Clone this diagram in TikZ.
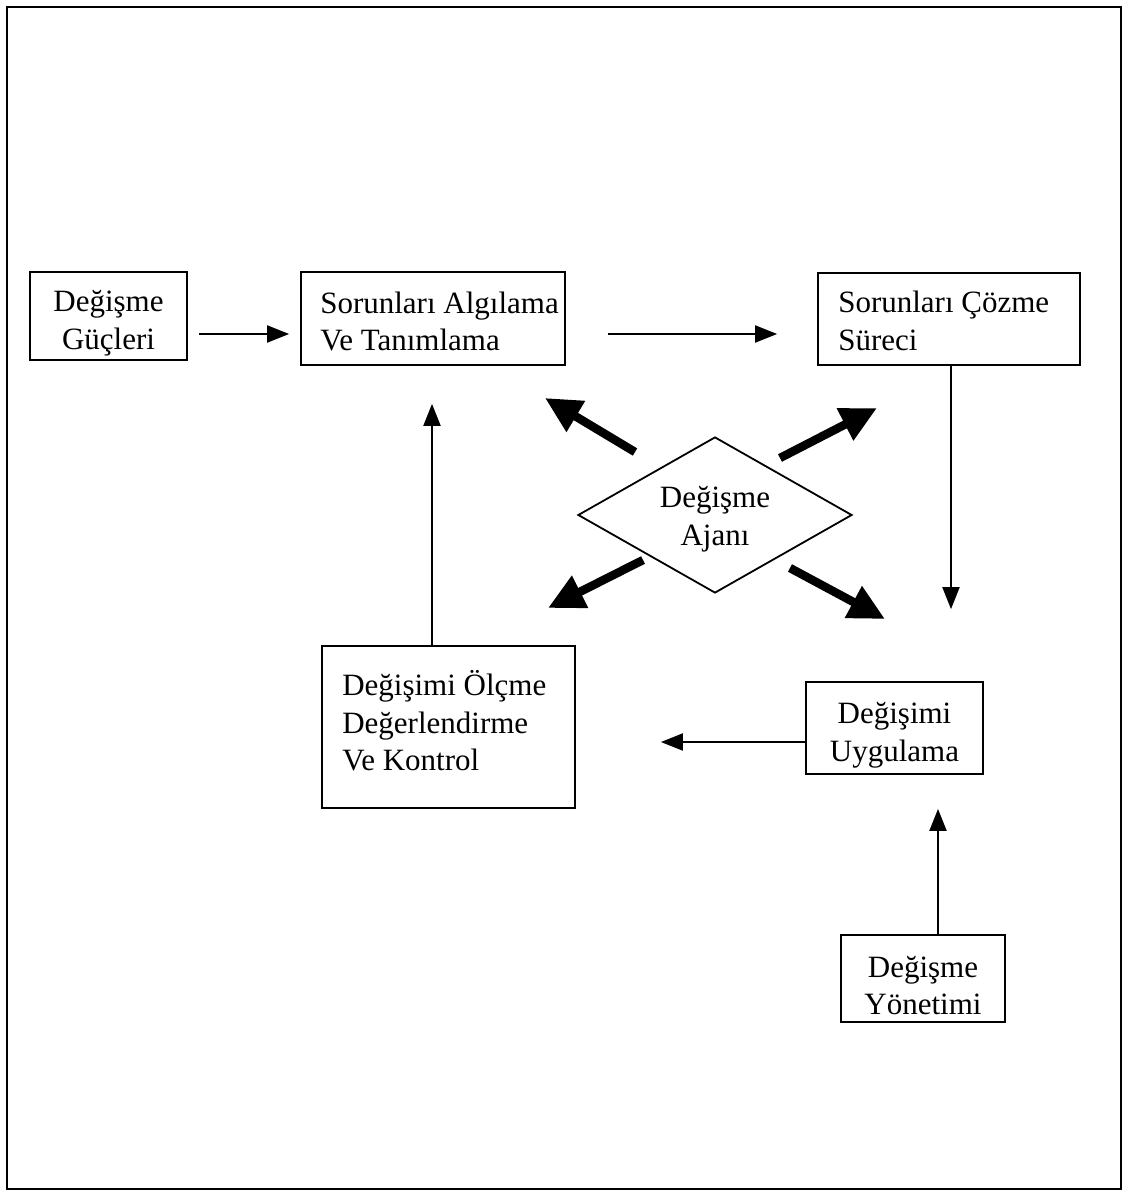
\documentclass[tikz,border=0pt]{standalone}
\usepackage{fontspec}
\setmainfont{Liberation Serif}
\usetikzlibrary{arrows.meta,shapes.geometric}
\begin{document}
\begin{tikzpicture}[x=1pt,y=-1pt,
  box/.style={draw, line width=1.8pt, inner sep=0pt},
  txt/.style={inner sep=0pt, font=\fontsize{31}{37.5}\selectfont},
  tarrow/.style={line width=2pt, -{Triangle[length=22pt,width=17pt]}},
  karrow/.style={line width=8.5pt, -{Triangle[length=36pt,width=34pt]}, draw=black, fill=black!85}]
\useasboundingbox (0,0) rectangle (1128,1192);
\draw[line width=2.5pt] (7,7) rectangle (1121,1189);
% boxes
\node[box, minimum width=157pt, minimum height=88pt] (B1) at (108.5,316) {};
\node[box, minimum width=264pt, minimum height=93pt] (B2) at (433,318.5) {};
\node[box, minimum width=262pt, minimum height=92pt] (B3) at (949,319) {};
\node[box, minimum width=253pt, minimum height=162pt] (B4) at (448.5,727) {};
\node[box, minimum width=177pt, minimum height=92pt] (B5) at (894.5,728) {};
\node[box, minimum width=164pt, minimum height=87pt] (B6) at (923,978.5) {};
\node[draw, line width=1.8pt, shape=diamond, shape aspect=1.756, inner sep=0pt,
      minimum width=274pt, minimum height=156pt] (D) at (715,515) {};
% texts
\node[txt, align=center] (T1) at ([yshift=-7pt]B1.center) {Değişme\\Güçleri};
\node[txt, align=left, anchor=west] (T2) at ([xshift=20pt,yshift=-3pt]B2.west) {Sorunları Algılama\\Ve Tanımlama};
\node[txt, align=left, anchor=west] (T3) at ([xshift=21pt,yshift=-2pt]B3.west) {Sorunları Çözme\\Süreci};
\node[txt, align=left, anchor=west] (T4) at ([xshift=21pt,yshift=6pt]B4.west) {Değişimi Ölçme\\Değerlendirme\\Ve Kontrol};
\node[txt, align=center] (T5) at ([yshift=-7pt]B5.center) {Değişimi\\Uygulama};
\node[txt, align=center] (T6) at ([yshift=-7pt]B6.center) {Değişme\\Yönetimi};
\node[txt, align=center] (TD) at ([yshift=-4pt]D.center) {Değişme\\Ajanı};
% thin arrows
\draw[tarrow] ([xshift=11pt]B1.east |- 0,334) -- ([xshift=-11pt]B2.west |- 0,334);
\draw[tarrow] ([xshift=42pt]B2.east |- 0,334) -- ([xshift=-40pt]B3.west |- 0,334);
\draw[tarrow] (B3.south -| 951,0) -- ([yshift=72pt]B5.north -| 951,0);
\draw[tarrow] (B5.west |- 0,742) -- ([xshift=85pt]B4.east |- 0,742);
\draw[tarrow] (B4.north -| 432,0) -- ([yshift=-38pt]B2.south -| 432,0);
\draw[tarrow] (B6.north -| 938,0) -- ([yshift=-34pt]B5.south -| 938,0);
% thick arrows from the diamond
\draw[karrow] ([shift={(-80,-63)}]D.center) -- ([shift={(-170,-117)}]D.center);
\draw[karrow] ([shift={(65,-57)}]D.center) -- ([shift={(162,-107)}]D.center);
\draw[karrow] ([shift={(-72,45)}]D.center) -- ([shift={(-167,93)}]D.center);
\draw[karrow] ([shift={(75,53)}]D.center) -- ([shift={(170,104)}]D.center);
\end{tikzpicture}
\end{document}
